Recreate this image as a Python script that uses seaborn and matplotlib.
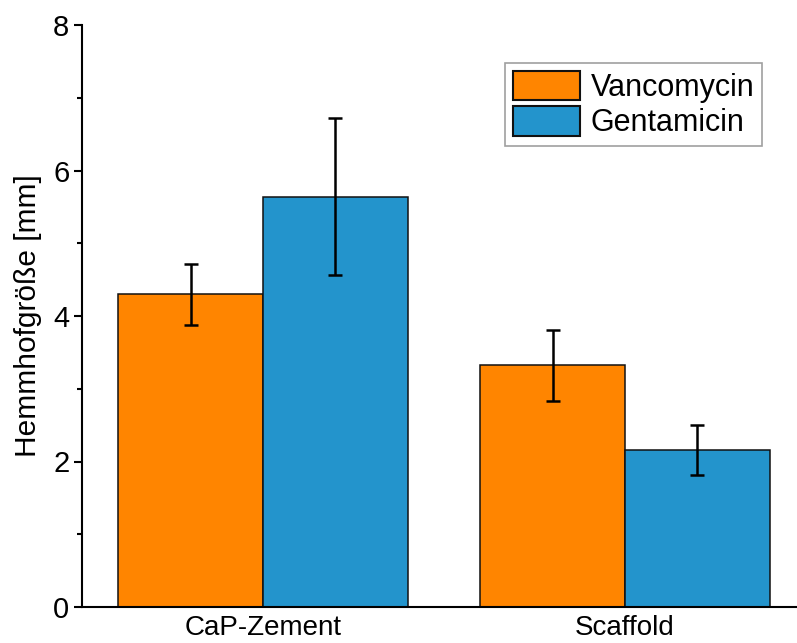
import matplotlib
matplotlib.use("Agg")
import matplotlib.pyplot as plt
import seaborn as sns
import pandas as pd
import numpy as np
from matplotlib.ticker import MultipleLocator

categories = ["CaP-Zement", "Scaffold"]
series = ["Vancomycin", "Gentamicin"]
vanco_vals = [4.30, 3.32]
vanco_err = [0.42, 0.49]
genta_vals = [5.64, 2.16]
genta_err = [1.08, 0.34]
colors = ["#FF8500", "#2394CC"]

df = pd.DataFrame({
    "cat": categories * 2,
    "series": [series[0]] * 2 + [series[1]] * 2,
    "val": vanco_vals + genta_vals,
})
errs = [vanco_err, genta_err]

sns.set_style("ticks")
plt.rcParams['font.family'] = ['Liberation Sans', 'DejaVu Sans']
plt.rcParams['text.color'] = 'black'
plt.rcParams['xtick.color'] = 'black'
plt.rcParams['ytick.color'] = 'black'
plt.rcParams['axes.labelcolor'] = 'black'

fig = plt.figure(figsize=(7.97, 6.43), dpi=100)
ax = fig.add_axes([82/797, 1-607/643, (806-82)/797, (607-25)/643])

sns.barplot(data=df, x="cat", y="val", hue="series", palette=colors,
            width=0.8, gap=0, edgecolor="#111111", linewidth=1.1,
            saturation=1, errorbar=None, ax=ax)

for cont, e in zip(ax.containers, errs):
    xs = [p.get_x() + p.get_width()/2 for p in cont]
    ys = [p.get_height() for p in cont]
    ax.errorbar(xs, ys, yerr=e, fmt="none", ecolor="black",
                elinewidth=1.8, capsize=5, capthick=1.8, zorder=5)

ax.set_xlim(-0.5, 1.5)
ax.set_ylim(0, 8)
ax.yaxis.set_major_locator(MultipleLocator(2))
ax.yaxis.set_minor_locator(MultipleLocator(1))
ax.tick_params(axis="y", which="major", length=6, width=1.5, labelsize=21, pad=3)
ax.tick_params(axis="y", which="minor", length=3.5, width=1.5)
ax.tick_params(axis="x", length=0, labelsize=20, pad=6)
ax.set_xlabel("")
ax.set_ylabel("Hemmhofgröße [mm]", fontsize=21.5, labelpad=8)
for s in ["top", "right"]:
    ax.spines[s].set_visible(False)
for s in ["left", "bottom"]:
    ax.spines[s].set_linewidth(1.5)
    ax.spines[s].set_color("black")

leg = ax.legend(loc="upper left", bbox_to_anchor=((505-82)/724, (643-63-36)/582),
                fontsize=22, frameon=True, fancybox=False, handlelength=2.2,
                handleheight=1.1, labelspacing=0.12, handletextpad=0.35,
                borderpad=0.25, borderaxespad=0)
leg.get_frame().set_edgecolor("#888888")
leg.get_frame().set_linewidth(1.2)
for h in leg.legend_handles:
    h.set_edgecolor("#111111")
    h.set_linewidth(1.5)

fig.savefig("out.png", dpi=100)
